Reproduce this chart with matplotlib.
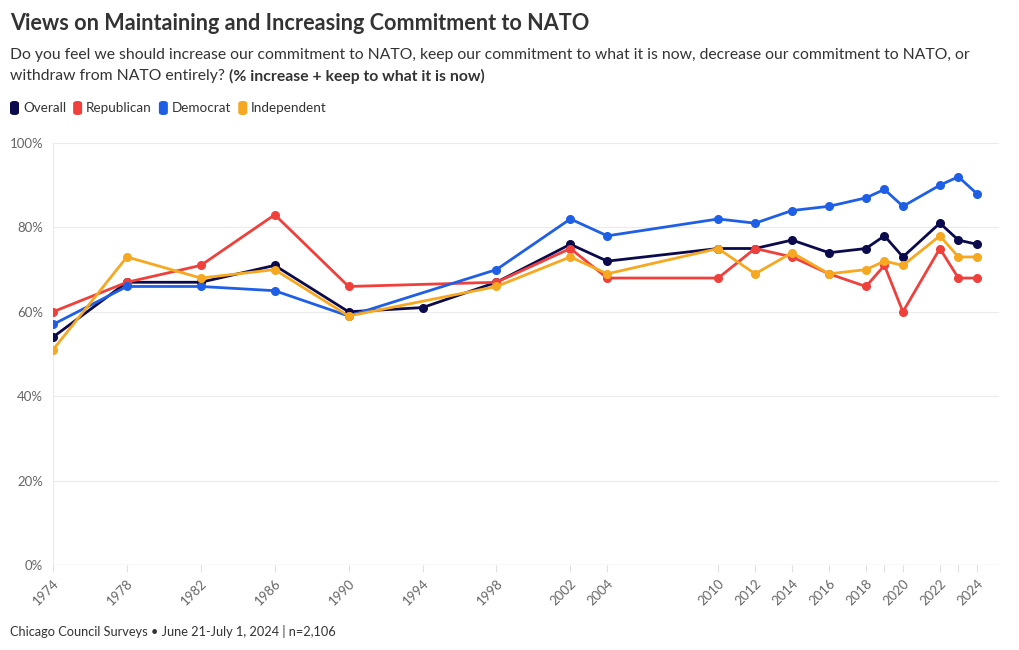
import matplotlib
matplotlib.use("Agg")
import matplotlib.pyplot as plt
from matplotlib.patches import FancyBboxPatch
import numpy as np

plt.rcParams['font.family'] = ['Lato', 'DejaVu Sans']

years_overall = [1974, 1978, 1982, 1986, 1990, 1994, 1998, 2002, 2004, 2010, 2012, 2014, 2016, 2018, 2019, 2020, 2022, 2023, 2024]
overall = [54, 67, 67, 71, 60, 61, 67, 76, 72, 75, 75, 77, 74, 75, 78, 73, 81, 77, 76]

years_party = [1974, 1978, 1982, 1986, 1990, 1998, 2002, 2004, 2010, 2012, 2014, 2016, 2018, 2019, 2020, 2022, 2023, 2024]
republican = [60, 67, 71, 83, 66, 67, 75, 68, 68, 75, 73, 69, 66, 71, 60, 75, 68, 68]
democrat = [57, 66, 66, 65, 59, 70, 82, 78, 82, 81, 84, 85, 87, 89, 85, 90, 92, 88]
independent = [51, 73, 68, 70, 59, 66, 73, 69, 75, 69, 74, 69, 70, 72, 71, 78, 73, 73]

series_names = ["Overall", "Republican", "Democrat", "Independent"]
colors = ["#0b0a4c", "#f0403c", "#1f5fe6", "#f6a821"]

tick_years = [1974, 1978, 1982, 1986, 1990, 1994, 1998, 2002, 2004, 2010, 2012, 2014, 2016, 2018, 2019, 2020, 2022, 2023, 2024]
tick_labels = ["1974", "1978", "1982", "1986", "1990", "1994", "1998", "2002", "2004", "2010", "2012", "2014", "2016", "2018", "", "2020", "2022", "", "2024"]
y_ticks = [0, 20, 40, 60, 80, 100]
y_labels = ["0%", "20%", "40%", "60%", "80%", "100%"]

W, H = 1020, 650
fig = plt.figure(figsize=(W / 100, H / 100), dpi=100)
ax = fig.add_axes([53 / W, 1 - 565 / H, (999 - 53) / W, (565 - 143) / H])

data = [(years_overall, overall), (years_party, republican), (years_party, democrat), (years_party, independent)]
for i in range(4):
    x, y = data[i]
    ax.plot(x, y, color=colors[i], lw=2.0, marker="o", ms=5.5, solid_joinstyle="round", zorder=3 + i)

ax.set_xlim(1974, 2025.2)
ax.set_ylim(0, 100)
ax.set_yticks(y_ticks)
ax.set_yticklabels(y_labels)
ax.set_xticks(tick_years)
ax.set_xticklabels(tick_labels, rotation=45, ha="right", rotation_mode="anchor")
ax.grid(axis="y", color="#ebebeb", lw=0.8)
ax.set_axisbelow(True)
for s in ["top", "right", "bottom"]:
    ax.spines[s].set_visible(False)
ax.spines["left"].set_color("#ebebeb")
ax.spines["left"].set_linewidth(0.8)
ax.tick_params(axis="y", length=0, pad=7, labelsize=9.5, labelcolor="#666666")
ax.tick_params(axis="x", length=5, color="#e0e0e0", pad=4, labelsize=9.5, labelcolor="#666666")
ax.axhline(0, color="#e6e6e6", lw=1, zorder=1)

fig.text(10 / W, 1 - 24 / H, "Views on Maintaining and Increasing Commitment to NATO",
         fontsize=15.6, fontweight="bold", color="#333333", va="center", ha="left")
fig.text(10 / W, 1 - 55 / H,
         "Do you feel we should increase our commitment to NATO, keep our commitment to what it is now, decrease our commitment to NATO, or",
         fontsize=11.3, color="#333333", va="center", ha="left")
t1 = fig.text(10 / W, 1 - 76 / H, "withdraw from NATO entirely? ", fontsize=11.3, color="#333333", va="center", ha="left")
fig.canvas.draw()
r = fig.canvas.get_renderer()
bb = t1.get_window_extent(r)
fig.text(bb.x1 / W, 1 - 76 / H, "(% increase + keep to what it is now)", fontsize=11.3, fontweight="bold",
         color="#333333", va="center", ha="left")

# legend
x = 10
yc = 108
for name, c in zip(series_names, colors):
    p = FancyBboxPatch((x / W, (H - yc - 7) / H), 9 / W, 14 / H,
                       boxstyle="round,pad=0,rounding_size=0.004", transform=fig.transFigure,
                       facecolor=c, edgecolor="none")
    fig.patches.append(p)
    t = fig.text((x + 13) / W, 1 - yc / H, name, fontsize=9.7, color="#333333", va="center", ha="left")
    fig.canvas.draw()
    b = t.get_window_extent(r)
    x = b.x1 + 7

fig.text(10 / W, 1 - 632 / H, "Chicago Council Surveys \u2022 June 21-July 1, 2024 | n=2,106",
         fontsize=9.2, color="#333333", va="center", ha="left")

fig.savefig("out.png", dpi=100)
